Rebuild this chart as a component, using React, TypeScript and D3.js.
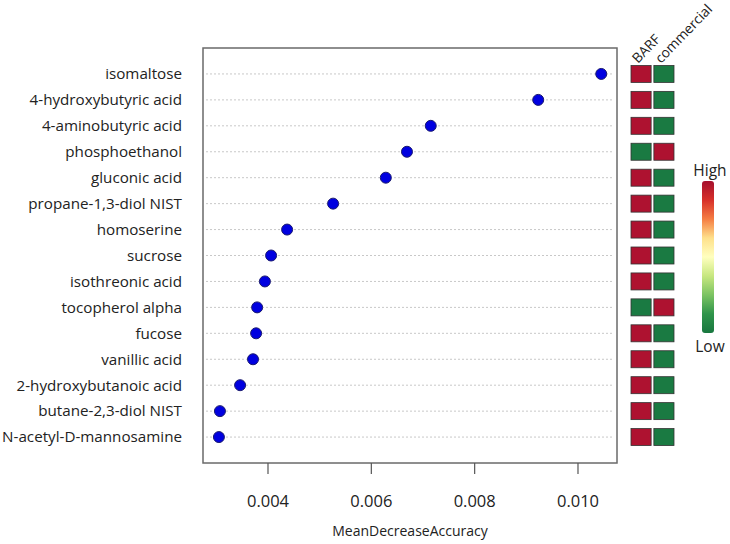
import React from "react";
import * as d3 from "d3";

const metabolites = [
  "isomaltose",
  "4-hydroxybutyric acid",
  "4-aminobutyric acid",
  "phosphoethanol",
  "gluconic acid",
  "propane-1,3-diol NIST",
  "homoserine",
  "sucrose",
  "isothreonic acid",
  "tocopherol alpha",
  "fucose",
  "vanillic acid",
  "2-hydroxybutanoic acid",
  "butane-2,3-diol NIST",
  "N-acetyl-D-mannosamine",
];
const meanDecreaseAccuracy = [
  0.01045, 0.00923, 0.00715, 0.00669, 0.00628, 0.00526, 0.00437, 0.00406,
  0.00394, 0.00379, 0.00377, 0.00371, 0.00346, 0.00307, 0.00305,
];
const groups = ["BARF", "commercial"];
// 1 = high, 0 = low
const barfLevel = [1, 1, 1, 0, 1, 1, 1, 1, 1, 0, 1, 1, 1, 1, 1];
const commercialLevel = [0, 0, 0, 1, 0, 0, 0, 0, 0, 1, 0, 0, 0, 0, 0];
const xTicks = [0.004, 0.006, 0.008, 0.01];
const legendStops = ["#a50f2d", "#d7302a", "#f57d43", "#fee08b", "#ffffbf", "#c7e77f", "#7bc362", "#2f944a", "#18773f"];

const font = "'Open Sans', sans-serif";

export default function App() {
  const W = 730,
    H = 544;
  const box = { left: 203, right: 617, top: 48, bottom: 463 };

  const x = d3.scaleLinear().domain([0.002742, 0.010755]).range([box.left, box.right]);
  const y = d3.scalePoint<string>().domain(metabolites).range([box.top, box.bottom]).padding(1);
  const gx = d3.scaleBand<string>().domain(groups).range([631, 674]).paddingInner(0.12);
  const heat = d3.scaleOrdinal<number, string>().domain([0, 1]).range(["#1a7a42", "#ae1230"]);
  const fmt = d3.format(".3f");

  const levels = [barfLevel, commercialLevel];
  const legendX = 702,
    legendTop = 181,
    legendBottom = 333;

  return (
    <svg width={W} height={H} style={{ position: "absolute", left: 0, top: 0, background: "#fff" }}>
      <defs>
        <linearGradient id="hl" x1="0" y1="0" x2="0" y2="1">
          {legendStops.map((c, i) => (
            <stop key={i} offset={i / (legendStops.length - 1)} stopColor={c} />
          ))}
        </linearGradient>
      </defs>

      {/* grid lines */}
      {metabolites.map((m) => (
        <line
          key={m}
          x1={box.left + 3}
          x2={box.right - 3}
          y1={y(m)}
          y2={y(m)}
          stroke="#c8c8c8"
          strokeDasharray="2,2"
        />
      ))}

      {/* labels */}
      {metabolites.map((m) => (
        <text key={m} x={182} y={y(m)} dy="0.35em" textAnchor="end" fontFamily={font} fontSize={15.2} fill="#222">
          {m}
        </text>
      ))}

      {/* points */}
      {metabolites.map((m, i) => (
        <circle key={m} cx={x(meanDecreaseAccuracy[i])} cy={y(m)} r={5.5} fill="#0000e0" stroke="#1a1a70" strokeWidth={1} />
      ))}

      <rect
        x={box.left}
        y={box.top}
        width={box.right - box.left}
        height={box.bottom - box.top}
        fill="none"
        stroke="#6a6a6a"
        strokeWidth={1.5}
      />

      {/* x axis */}
      {xTicks.map((t) => (
        <g key={t} transform={`translate(${x(t)},0)`}>
          <line y1={box.bottom} y2={box.bottom + 11} stroke="#555" strokeWidth={1.2} />
          <text y={507} textAnchor="middle" fontFamily={font} fontSize={16.5} fill="#222">
            {fmt(t)}
          </text>
        </g>
      ))}
      <text x={(box.left + box.right) / 2} y={536} textAnchor="middle" fontFamily={font} fontSize={14} fill="#222">
        MeanDecreaseAccuracy
      </text>

      {/* heatmap */}
      {groups.map((g, gi) =>
        metabolites.map((m, i) => (
          <rect
            key={g + m}
            x={gx(g)}
            y={(y(m) as number) - 8.5}
            width={gx.bandwidth()}
            height={17}
            fill={heat(levels[gi][i])}
            stroke="#333"
            strokeWidth={0.8}
          />
        ))
      )}
      {groups.map((g) => (
        <text
          key={g}
          transform={`translate(${(gx(g) as number) + gx.bandwidth() / 2 - 3},${64}) rotate(-46)`}
          fontFamily={font}
          fontSize={13.8}
          fill="#222"
        >
          {g}
        </text>
      ))}

      {/* legend */}
      <rect
        x={legendX}
        y={legendTop}
        width={12}
        height={legendBottom - legendTop}
        rx={3}
        fill="url(#hl)"
      />
      <text x={legendX + 8} y={176} textAnchor="middle" fontFamily={font} fontSize={15.5} fill="#222">
        High
      </text>
      <text x={legendX + 8} y={352} textAnchor="middle" fontFamily={font} fontSize={15.5} fill="#222">
        Low
      </text>
    </svg>
  );
}
